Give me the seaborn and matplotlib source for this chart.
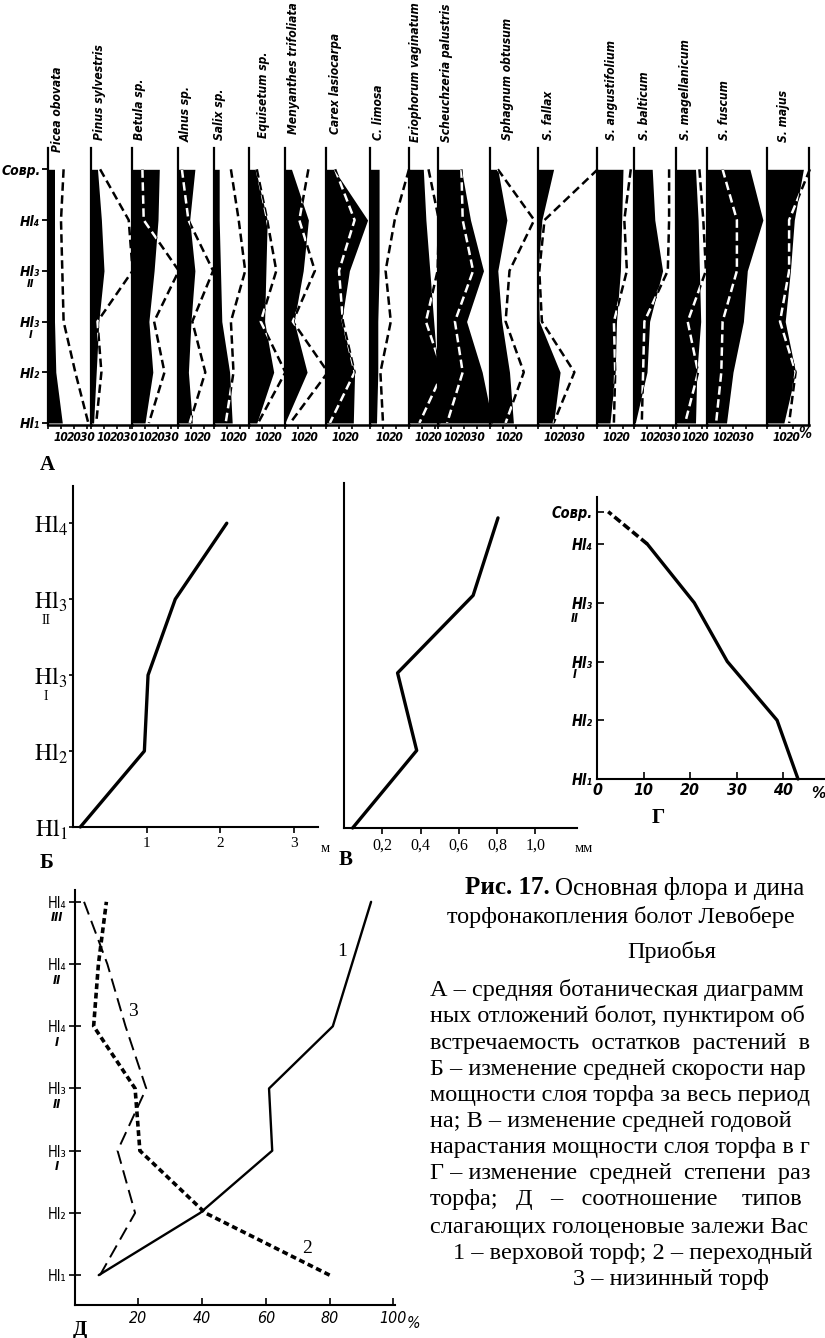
import numpy as np
import pandas as pd
import matplotlib
matplotlib.use("Agg")
import matplotlib.pyplot as plt
import seaborn as sns
from matplotlib import font_manager

# ------------------------------------------------------------------ DATA
# Panel A: average botanical diagram (values in %, order top -> bottom)
levels_a = ["Совр.", "Hl₄", "Hl₃", "Hl₃", "Hl₂", "Hl₁"]
levels_a_sub = ["", "", "II", "I", "", ""]
taxa = ["Picea obovata", "Pinus sylvestris", "Betula sp.", "Alnus sp.", "Salix sp.",
        "Equisetum sp.", "Menyanthes trifoliata", "Carex lasiocarpa", "C. limosa",
        "Eriophorum vaginatum", "Scheuchzeria palustris", "Sphagnum obtusum",
        "S. fallax", "S. angustifolium", "S. balticum", "S. magellanicum",
        "S. fuscum", "S. majus"]
# black profiles (mean participation in peat)
abundance = [
    [5, 5, 5, 5, 6, 11],
    [5, 8, 10, 6, 4, 2],
    [21, 20, 17, 13, 16, 10],
    [13, 9, 13, 10, 8, 11],
    [4, 4, 5, 6, 12, 14],
    [5, 14, 13, 12, 19, 6],
    [5, 18, 14, 7, 17, 0],
    [6, 32, 18, 12, 22, 21],
    [7, 7, 7, 6, 6, 5],
    [11, 13, 16, 19, 22, 24],
    [18, 25, 35, 22, 34, 42],
    [6, 13, 6, 9, 15, 18],
    [12, 3, 0, 1, 17, 12],
    [20, 19, 18, 15, 14, 10],
    [14, 16, 22, 12, 10, 1],
    [15, 17, 18, 19, 16, 15],
    [33, 43, 31, 28, 20, 15],
    [28, 21, 18, 14, 22, 13],
]
# dashed lines (occurrence of remains)
occurrence = [
    [12, 10, 11, 12, 21, 31],
    [7, 29, 32, 5, 8, 4],
    [8, 9, 36, 17, 25, 13],
    [3, 8, 27, 11, 21, 9],
    [13, 19, 24, 13, 15, 9],
    [6, 14, 21, 9, 28, 7],
    [18, 11, 23, 6, 33, 4],
    [7, 22, 10, 13, 22, 3],
    [30, 19, 12, 16, 8, 10],
    [15, 23, 22, 13, 26, 8],
    [18, 19, 27, 13, 19, 7],
    [6, 34, 15, 12, 26, 12],
    [46, 5, 1, 3, 28, 12],
    [26, 21, 23, 13, 14, 13],
    [27, 27, 26, 8, 7, 6],
    [18, 21, 23, 9, 17, 7],
    [12, 23, 23, 12, 11, 7],
    [33, 17, 17, 10, 22, 17],
]
col_ticks = [[10, 20, 30], [10, 20, 30], [10, 20, 30], [10, 20], [10, 20], [10, 20],
             [10, 20], [10, 20], [10, 20], [10, 20], [10, 20, 30], [10, 20],
             [10, 20, 30], [10, 20], [10, 20, 30], [10, 20], [10, 20, 30], [10, 20]]

# Panel Б: mean rate of peat thickness growth (m), Hl1..Hl4
levels_b_math = [r"$\mathrm{Hl}_1$", r"$\mathrm{Hl}_2$", r"$\mathrm{Hl}_3$",
                 r"$\mathrm{Hl}_3$", r"$\mathrm{Hl}_4$"]
levels_b_sub = ["", "", "I", "II", ""]
growth_m = [0.10, 0.97, 1.02, 1.39, 2.09]
b_ticks = [1, 2, 3]

# Panel В: mean annual growth (mm)
growth_mm = [0.045, 0.38, 0.28, 0.675, 0.805]
v_ticks = [0.2, 0.4, 0.6, 0.8, 1.0]
v_ticklabels = ["0,2", "0,4", "0,6", "0,8", "1,0"]

# Panel Г: mean degree of decomposition (%), Hl1..Hl4, Совр.
levels_g = ["Hl₁", "Hl₂", "Hl₃", "Hl₃", "Hl₄", "Совр."]
levels_g_sub = ["", "", "I", "II", "", ""]
levels_g_pos = [0, 1, 2, 3, 4, 4.55]
decomp = [43.2, 38.7, 28.0, 20.9, 10.8, 2.4]
g_ticks = [0, 10, 20, 30, 40]

# Panel Д: ratio of peat types (%), Hl1 .. Hl4 III
levels_d = ["Hl₁", "Hl₂", "Hl₃", "Hl₃", "Hl₄", "Hl₄", "Hl₄"]
levels_d_sub = ["", "", "I", "II", "I", "II", "III"]
raised_peat = [7.6, 39.4, 62, 61, 81, 87, 93]        # 1
transitional_peat = [80, 41, 20.5, 19, 6, 7.5, 10]    # 2
lowland_peat = [8, 19, 13.5, 22.5, 16, 10.3, 3]       # 3
d_ticks = [20, 40, 60, 80, 100]

caption = [
    ("торфонакопления болот Левобере", 447, 917),
    ("Приобья", 627, 952),
    ("А – средняя ботаническая диаграмм", 430, 990),
    ("ных отложений болот, пунктиром об", 430, 1016),
    ("встречаемость  остатков  растений  в", 430, 1043),
    ("Б – изменение средней скорости нар", 430, 1069),
    ("мощности слоя торфа за весь период", 430, 1095),
    ("на; В – изменение средней годовой", 430, 1121),
    ("нарастания мощности слоя торфа в г", 430, 1148),
    ("Г – изменение  средней  степени  раз", 430, 1174),
    ("торфа;   Д   –   соотношение    типов", 430, 1200),
    ("слагающих голоценовые залежи Вас", 430, 1227),
    ("1 – верховой торф; 2 – переходный", 453, 1253),
    ("3 – низинный торф", 573, 1279),
]

# ------------------------------------------------------------------ STYLE
sns.set_theme(style="white")
ttf = font_manager.fontManager.ttflist
names = {f.name for f in ttf}
STRETCH = "normal"
if "Liberation Sans Narrow" in names:
    NARROW, ns = "Liberation Sans Narrow", 1.0
elif any(f.name == "DejaVu Sans" and "condensed" in str(f.stretch) for f in ttf):
    NARROW, ns, STRETCH = "DejaVu Sans", 0.95, "condensed"
else:
    NARROW, ns = "DejaVu Sans", 0.85
SANS = [NARROW, "DejaVu Sans"]
SERIF = ["Liberation Serif", "DejaVu Serif"]
plt.rcParams["font.family"] = ["DejaVu Sans"]
plt.rcParams.update({
    "mathtext.fontset": "stix",
    "axes.edgecolor": "black", "text.color": "black",
    "xtick.color": "black", "ytick.color": "black",
    "xtick.bottom": True, "ytick.left": True,
    "axes.linewidth": 1.5,
})

W, H = 825, 1338
fig = plt.figure(figsize=(W / 100, H / 100), dpi=100)
fig.patch.set_facecolor("white")


def px_axes(x0, y0, x1, y1):
    a = fig.add_axes([x0 / W, 1 - y1 / H, (x1 - x0) / W, (y1 - y0) / H])
    a.set_facecolor("none")
    for s in ["top", "right"]:
        a.spines[s].set_visible(False)
    return a


def ftext(x, y, s, **kw):
    fig.text(x / W, 1 - y / H, s, **kw)


def sub_label(ax, y, s, dx, dy, **kw):
    ax.annotate(s, xy=(0, y), xycoords=("axes fraction", "data"), xytext=(dx, dy),
                textcoords="offset pixels", ha="center", va="center",
                annotation_clip=False, **kw)


def style_labels(labels, italic=True, bold=True):
    for lab in labels:
        lab.set_family(SANS)
        lab.set_stretch(STRETCH)
        if bold:
            lab.set_fontweight("bold")
        if italic:
            lab.set_fontstyle("italic")


sansbi = dict(family=SANS, weight="bold", style="italic", stretch=STRETCH)

# ------------------------------------------------------------------ PANEL A
col_left = [48, 91, 132, 178, 214, 249, 285, 326, 370, 409, 438, 490, 538, 597, 634, 676, 707, 767]
col_end = 809
label_dx = [10, 9, 8, 8, 6, 14, 9, 9, 9, 7, 8, 17, 10, 14, 11, 9, 17, 16]
label_bottom = [152, 140, 140, 142, 140, 138, 134, 134, 140, 142, 142, 140, 140, 140, 140, 140, 140, 142]
A_top, A_bot = 148, 425
ppp = 1.3  # pixels per percent
ypos_a = [5, 4, 3, 2, 1, 0]
dash_style = (0, (3.4, 1.8))

for i, name in enumerate(taxa):
    x0 = col_left[i]
    x1 = col_left[i + 1] if i + 1 < len(col_left) else col_end
    ax = px_axes(x0, A_top, x1, A_bot)
    ax.set_xlim(0, (x1 - x0) / ppp)
    ax.set_ylim(-0.04, 5.42)
    df = pd.DataFrame({"level": ypos_a, "abund": abundance[i], "occ": occurrence[i]})
    poly = ax.fill_betweenx(df["level"], 0, df["abund"], color="black", lw=0, clip_on=False)
    sns.lineplot(data=df, x="occ", y="level", sort=False, estimator=None, color="black",
                 lw=1.8, linestyle=dash_style, ax=ax, clip_on=False)
    sns.lineplot(data=df, x="occ", y="level", sort=False, estimator=None, color="white",
                 lw=1.8, linestyle=dash_style, ax=ax)
    wl = ax.lines[-1]
    wl.set_clip_path(poly.get_paths()[0], ax.transData)
    ax.set(xlabel="", ylabel="")
    ax.spines["left"].set_linewidth(1.6)
    ax.spines["bottom"].set_linewidth(1.8)
    if i == len(taxa) - 1:
        ax.spines["right"].set_visible(True)
        ax.spines["right"].set_linewidth(1.6)
    ax.set_xticks([0] + col_ticks[i])
    ax.set_xticklabels([""] + [str(t) for t in col_ticks[i]])
    ax.tick_params(axis="x", direction="out", length=3, width=1.2, pad=1.5,
                   labelsize=9 * ns)
    style_labels(ax.get_xticklabels())
    if i == 0:
        ax.set_yticks(ypos_a)
        ax.set_yticklabels(levels_a)
        ax.tick_params(axis="y", direction="out", length=4, width=1.3, pad=1.5,
                       labelsize=10.5 * ns)
        style_labels(ax.get_yticklabels())
        for yv, s in zip(ypos_a, levels_a_sub):
            if s:
                sub_label(ax, yv, s, -17, -13, fontsize=8.5 * ns, **sansbi)
    else:
        ax.set_yticks([])
    ftext(x0 + label_dx[i], label_bottom[i], name, rotation=90, ha="left", va="center",
          rotation_mode="anchor", fontsize=9.1 * ns, **sansbi)

ftext(805, 433, "%", ha="center", va="center", fontsize=11 * ns, **sansbi)
ftext(47, 465, "А", ha="center", va="center", fontsize=15, family=SERIF, weight="bold")

# ------------------------------------------------------------------ PANEL Б
axB = px_axes(73, 486, 318, 827)
dfb = pd.DataFrame({"level": range(5), "growth": growth_m})
sns.lineplot(data=dfb, x="growth", y="level", sort=False, estimator=None, color="black",
             lw=2.4, ax=axB, clip_on=False)
axB.set(xlabel="", ylabel="", xlim=(0, 3.33), ylim=(0, 4.49))
axB.set_xticks(b_ticks)
axB.set_xticklabels([str(t) for t in b_ticks], family=SERIF, fontsize=11)
axB.set_yticks(range(5))
axB.set_yticklabels(levels_b_math, fontsize=17)
axB.tick_params(axis="x", direction="out", length=4, width=1.2, pad=3)
axB.tick_params(axis="y", direction="out", length=3, width=1.2, pad=1)
for yv, s in enumerate(levels_b_sub):
    if s:
        sub_label(axB, yv, s, -27, -21, fontsize=10, family=SERIF)
ftext(325, 848, "м", ha="center", va="center", fontsize=10.5, family=SERIF)
ftext(47, 863, "Б", ha="center", va="center", fontsize=15, family=SERIF, weight="bold")

# ------------------------------------------------------------------ PANEL В
axV = px_axes(344, 483, 577, 828)
dfv = pd.DataFrame({"level": range(5), "growth": growth_mm})
sns.lineplot(data=dfv, x="growth", y="level", sort=False, estimator=None, color="black",
             lw=2.4, ax=axV, clip_on=False)
axV.set(xlabel="", ylabel="", xlim=(0, 1.218), ylim=(0, 4.45))
axV.set_xticks(v_ticks)
axV.set_xticklabels(v_ticklabels, family=SERIF, fontsize=11.5)
axV.set_yticks([])
axV.tick_params(axis="x", direction="out", length=4, width=1.2, pad=3)
ftext(584, 848, "мм", ha="center", va="center", fontsize=10.5, family=SERIF)
ftext(346, 860, "В", ha="center", va="center", fontsize=15, family=SERIF, weight="bold")

# ------------------------------------------------------------------ PANEL Г
axG = px_axes(597, 497, 825, 779)
dfg = pd.DataFrame({"level": levels_g_pos, "decomp": decomp})
sns.lineplot(data=dfg.iloc[:5], x="decomp", y="level", sort=False, estimator=None,
             color="black", lw=2.4, ax=axG, clip_on=False)
sns.lineplot(data=dfg.iloc[4:], x="decomp", y="level", sort=False, estimator=None,
             color="black", lw=2.6, linestyle=(0, (2.2, 1.0)), ax=axG, clip_on=False)
axG.set(xlabel="", ylabel="", xlim=(0, 49), ylim=(0, 4.8))
axG.set_xticks(g_ticks)
axG.set_xticklabels([str(t) for t in g_ticks])
axG.set_yticks(levels_g_pos)
axG.set_yticklabels(levels_g)
axG.tick_params(axis="x", direction="in", length=5, width=1.2, pad=3, labelsize=12 * ns)
axG.tick_params(axis="y", direction="in", length=5, width=1.2, pad=3, labelsize=11 * ns)
style_labels(axG.get_xticklabels() + axG.get_yticklabels())
for yv, s in zip(levels_g_pos, levels_g_sub):
    if s:
        sub_label(axG, yv, s, -22, -16 if s == "II" else -13, fontsize=9 * ns, **sansbi)
ftext(818, 793, "%", ha="center", va="center", fontsize=12 * ns, **sansbi)
ftext(658, 818, "Г", ha="center", va="center", fontsize=15, family=SERIF, weight="bold")

# ------------------------------------------------------------------ PANEL Д
axD = px_axes(74.5, 890, 395, 1305)
levels_d_pos = list(range(7))
dfd = pd.DataFrame({"level": levels_d_pos, "raised": raised_peat,
                    "trans": transitional_peat, "low": lowland_peat})
sns.lineplot(data=dfd, x="raised", y="level", sort=False, estimator=None, color="black",
             lw=1.7, ax=axD, clip_on=False)
sns.lineplot(data=dfd, x="trans", y="level", sort=False, estimator=None, color="black",
             lw=2.6, linestyle=(0, (1.6, 1.0)), ax=axD, clip_on=False)
sns.lineplot(data=dfd, x="low", y="level", sort=False, estimator=None, color="black",
             lw=1.4, linestyle=(0, (7, 3.5)), ax=axD, clip_on=False)
axD.set(xlabel="", ylabel="", xlim=(0, 100.5), ylim=(-0.48, 6.19))
axD.set_xticks(d_ticks)
axD.set_xticklabels([str(t) for t in d_ticks])
axD.set_yticks(levels_d_pos)
axD.set_yticklabels(levels_d)
axD.tick_params(axis="x", direction="in", length=5, width=1.2, pad=4, labelsize=12 * ns)
axD.tick_params(axis="y", direction="inout", length=8, width=1.2, pad=2, labelsize=11 * ns)
style_labels(axD.get_xticklabels(), italic=True, bold=False)
style_labels(axD.get_yticklabels(), italic=False, bold=False)
for yv, s in zip(levels_d_pos, levels_d_sub):
    if s:
        sub_label(axD, yv, s, -18, -16, fontsize=9.5 * ns, **sansbi)
axD.annotate("1", xy=(84, 5.2), ha="center", va="center", fontsize=14, family=SERIF)
axD.annotate("2", xy=(73, 0.43), ha="center", va="center", fontsize=14, family=SERIF)
axD.annotate("3", xy=(18.3, 4.23), ha="center", va="center", fontsize=14, family=SERIF)
ftext(414, 1323, "%", ha="center", va="center", fontsize=12 * ns, family=SANS,
      style="italic", stretch=STRETCH)
ftext(80, 1330, "Д", ha="center", va="center", fontsize=15, family=SERIF, weight="bold")

# ------------------------------------------------------------------ CAPTION
ftext(465, 888, "Рис. 17.", ha="left", va="center", fontsize=18, family=SERIF, weight="bold")
ftext(555, 888, "Основная флора и дина", ha="left", va="center", fontsize=18, family=SERIF)
for s, x, y in caption:
    ftext(x, y, s, ha="left", va="center", fontsize=17.5, family=SERIF)

fig.savefig("out.png", dpi=100, facecolor="white")
